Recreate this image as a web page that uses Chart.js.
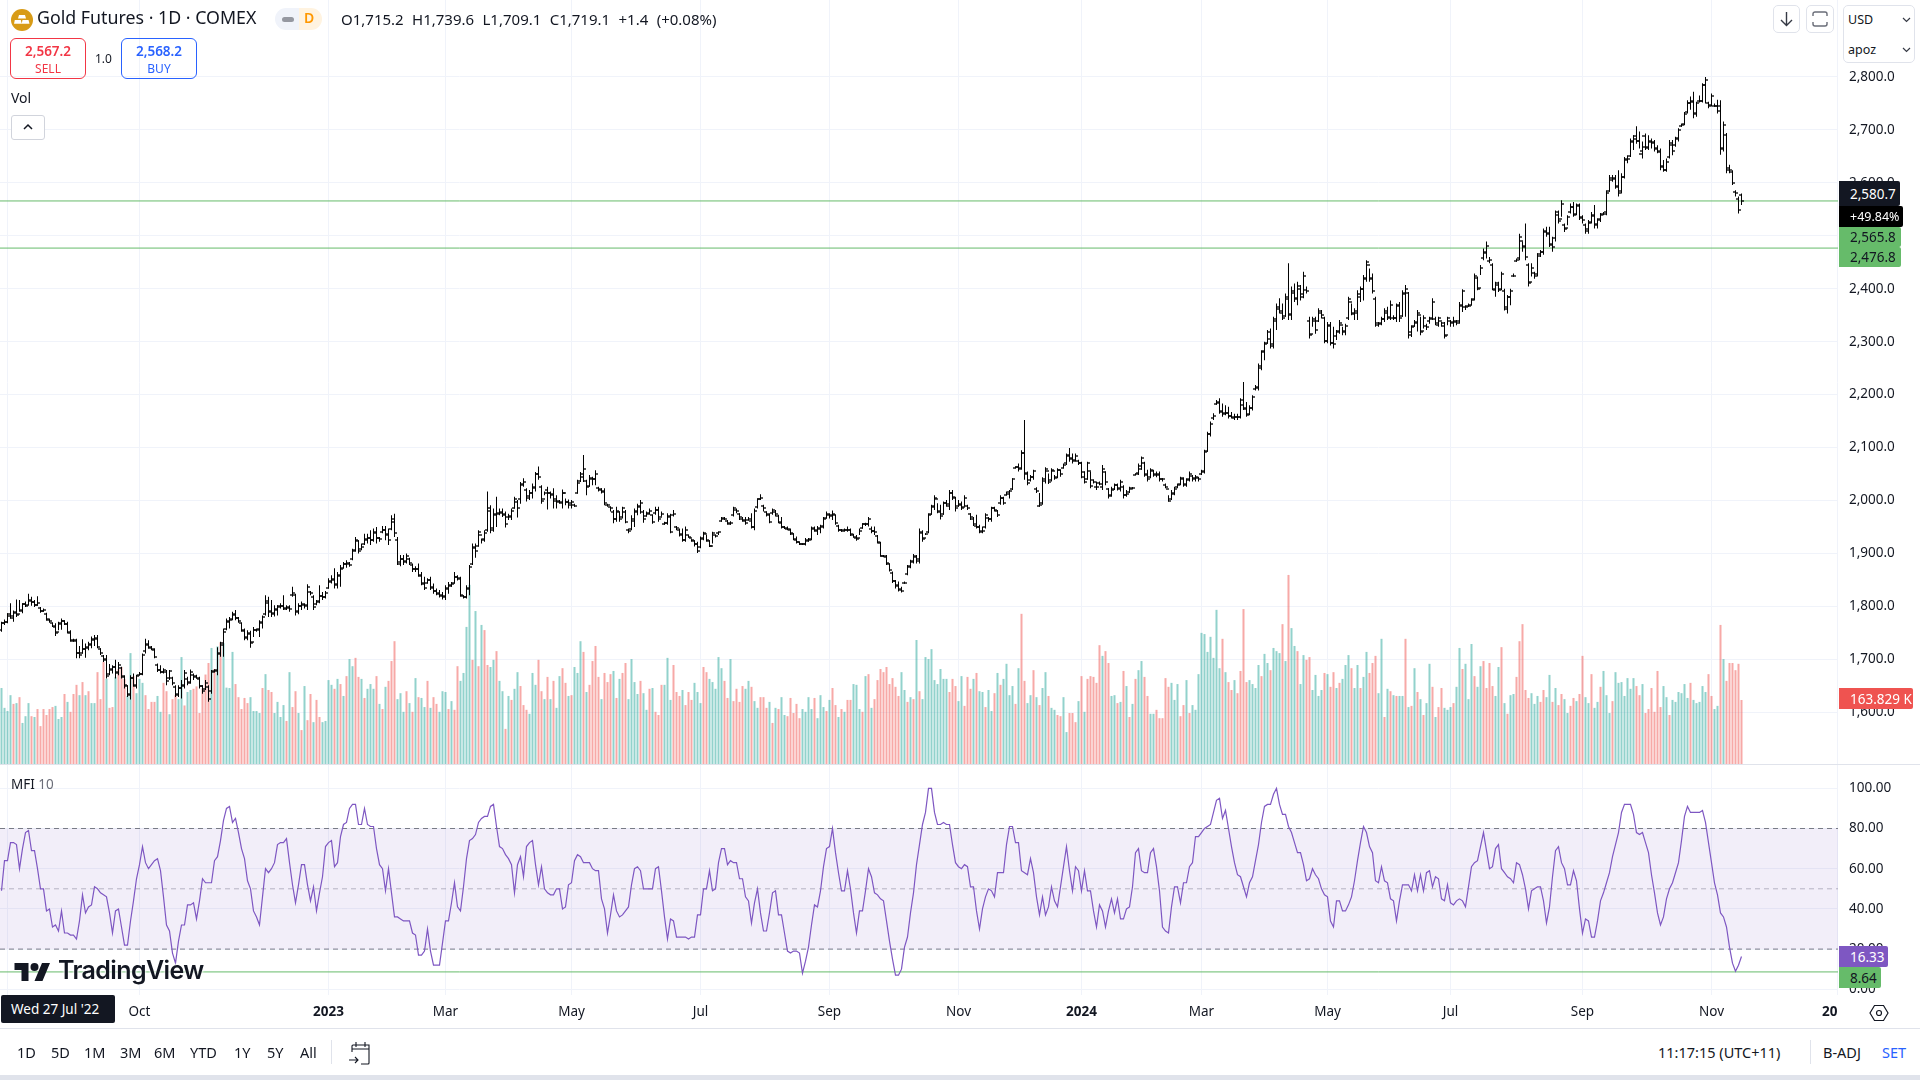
<!DOCTYPE html>
<html>
<head>
<meta charset="utf-8">
<title>Gold Futures</title>
<script src="https://cdn.jsdelivr.net/npm/chart.js@4"></script>
<style>
html,body{margin:0;padding:0;background:#fff;width:1920px;height:1080px;overflow:hidden;font-family:"Noto Sans",sans-serif;color:#131722}
canvas{position:absolute;left:0}
.t{position:absolute;white-space:nowrap;line-height:1}
.box{position:absolute;box-sizing:border-box}
.lab{position:absolute;left:1839px;box-sizing:border-box;font-size:13.5px;text-align:left;padding-left:11px;display:flex;align-items:center;border-radius:0 2px 2px 0}
</style>
</head>
<body>
<canvas id="mainChart" width="1920" height="765" style="top:0"></canvas>
<canvas id="mfiChart" width="1920" height="263" style="top:765px"></canvas>

<div class="box" style="left:0;top:764px;width:1920px;height:1px;background:#e0e3eb"></div>
<div class="box" style="left:0;top:1028px;width:1920px;height:1px;background:#e0e3eb"></div>
<div class="box" style="left:0;top:1075px;width:1920px;height:5px;background:#e0e3eb"></div>
<div class="box" style="left:1838px;top:995px;width:82px;height:33px;background:#fff"></div>

<svg class="box" style="left:11px;top:9px" width="22" height="22" viewBox="0 0 22 22"><circle cx="11" cy="11" r="11" fill="#d89b16"/><path d="M8 6h6l1 3.6H7zM3.8 11h6l1 3.8H3zM11.5 11h6l1 3.8h-7.8z" fill="#fff"/></svg>
<div class="t" style="left:37px;top:9px;font-size:17.8px">Gold Futures · 1D · COMEX</div>
<div class="box" style="left:275px;top:8px;width:24px;height:22px;background:#f0f3fa;border-radius:11px 0 0 11px"></div>
<div class="box" style="left:282px;top:17px;width:12px;height:5px;background:#9598a1;border-radius:3px"></div>
<div class="box" style="left:299px;top:8px;width:23px;height:22px;background:#fff3e0;border-radius:0 11px 11px 0"></div>
<div class="t" style="left:304px;top:11px;font-size:14px;color:#ff9800;font-weight:600">D</div>
<div class="t" id="ohlcText" style="left:341px;top:12px;font-size:15px;word-spacing:4.5px">O1,715.2 H1,739.6 L1,709.1 C1,719.1 +1.4 (+0.08%)</div>

<div class="box" style="left:10px;top:38px;width:76px;height:41px;border:1px solid #f23645;border-radius:6px"></div>
<div class="t" style="left:10px;width:76px;text-align:center;top:45px;font-size:13.5px;font-weight:600;color:#f23645">2,567.2</div>
<div class="t" style="left:10px;width:76px;text-align:center;top:63px;font-size:12px;color:#f23645">SELL</div>
<div class="t" style="left:95px;top:53px;font-size:12px">1.0</div>
<div class="box" style="left:121px;top:38px;width:76px;height:41px;border:1px solid #2962ff;border-radius:6px"></div>
<div class="t" style="left:121px;width:76px;text-align:center;top:45px;font-size:13.5px;font-weight:600;color:#2962ff">2,568.2</div>
<div class="t" style="left:121px;width:76px;text-align:center;top:63px;font-size:12px;color:#2962ff">BUY</div>
<div class="t" style="left:11px;top:91px;font-size:14px">Vol</div>
<div class="box" style="left:11px;top:115px;width:34px;height:25px;border:1px solid #d1d4dc;border-radius:3px;background:#fff"></div>
<svg class="box" style="left:22px;top:122px" width="12" height="10" viewBox="0 0 12 10"><path d="M2 7l4-4 4 4" fill="none" stroke="#131722" stroke-width="1.5"/></svg>

<div class="box" style="left:1773px;top:5px;width:27px;height:28px;border:1px solid #e0e3eb;border-radius:5px;background:#fff"></div>
<svg class="box" style="left:1779px;top:11px" width="15" height="16" viewBox="0 0 15 16"><path d="M7.5 1v13M2 9l5.5 5.5L13 9" fill="none" stroke="#363a45" stroke-width="1.4"/></svg>
<div class="box" style="left:1806px;top:5px;width:28px;height:28px;border:1px solid #e0e3eb;border-radius:5px;background:#fff"></div>
<svg class="box" style="left:1812px;top:11px" width="16" height="16" viewBox="0 0 16 16"><path d="M1 5V3a2 2 0 0 1 2-2h10a2 2 0 0 1 2 2v2M1 11v2a2 2 0 0 0 2 2h10a2 2 0 0 0 2-2v-2" fill="none" stroke="#6a6d78" stroke-width="1.4"/></svg>
<div class="box" style="left:1843px;top:5px;width:72px;height:58px;border:1px solid #e0e3eb;border-radius:5px;background:#fff"></div>
<div class="t" style="left:1848px;top:14px;font-size:12.5px">USD</div>
<div class="t" style="left:1848px;top:44px;font-size:12.5px">apoz</div>
<svg class="box" style="left:1902px;top:17px" width="9" height="6" viewBox="0 0 9 6"><path d="M1 1l3.5 3.5L8 1" fill="none" stroke="#363a45" stroke-width="1.2"/></svg>
<svg class="box" style="left:1902px;top:47px" width="9" height="6" viewBox="0 0 9 6"><path d="M1 1l3.5 3.5L8 1" fill="none" stroke="#363a45" stroke-width="1.2"/></svg>

<div class="lab" style="top:181px;height:25px;width:61px;background:#131722;color:#fff">2,580.7</div>
<div class="lab" style="top:206px;height:21px;width:64px;background:#000;color:#fff;padding-left:11px;font-size:12.5px">+49.84%</div>
<div class="lab" style="top:227px;height:20px;width:62px;background:#66bb6a;color:#131722">2,565.8</div>
<div class="lab" style="top:247px;height:20px;width:62px;background:#66bb6a;color:#131722">2,476.8</div>
<div class="lab" style="top:688px;height:21px;width:74px;background:#ef5350;color:#fff">163.829 K</div>
<div class="lab" style="top:946px;height:21px;width:49px;background:#7e57c2;color:#fff">16.33</div>
<div class="lab" style="top:967px;height:21px;width:42px;background:#66bb6a;color:#131722">8.64</div>

<div class="t" style="left:11px;top:778px;font-size:13.5px">MFI <span style="color:#6a6d78">10</span></div>
<svg class="box" style="left:14px;top:962px" width="37" height="22" viewBox="0 0 36 22"><path d="M14 19H7V8H0V1h14v18zM28 19h-8L27.5 1h8L28 19z" fill="#131722"/><circle cx="20" cy="5" r="4" fill="#131722"/></svg>
<div class="t" style="left:58px;top:958px;font-size:25px;font-weight:600;font-family:Inter,sans-serif;letter-spacing:-.6px;text-shadow:0 0 3px #fff,0 0 3px #fff">TradingView</div>

<div class="box" style="left:1px;top:995px;width:114px;height:28px;background:#131722;border-radius:2px"></div>
<div class="t" style="left:11px;top:1003px;font-size:13.5px;color:#fff">Wed 27 Jul '22</div>
<svg class="box" style="left:1869px;top:1003px" width="20" height="20" viewBox="0 0 20 20"><path d="M5.5 2.5h9L19 10l-4.500 7.500h-9L1 10z" fill="none" stroke="#131722" stroke-width="1.2"/><circle cx="10" cy="10" r="2.500" fill="none" stroke="#131722" stroke-width="1.2"/></svg>

<div class="t" style="left:17px;top:1045px;font-size:14.5px">1D</div>
<div class="t" style="left:51px;top:1045px;font-size:14.5px">5D</div>
<div class="t" style="left:84px;top:1045px;font-size:14.5px">1M</div>
<div class="t" style="left:120px;top:1045px;font-size:14.5px">3M</div>
<div class="t" style="left:154px;top:1045px;font-size:14.5px">6M</div>
<div class="t" style="left:190px;top:1045px;font-size:14.5px">YTD</div>
<div class="t" style="left:234px;top:1045px;font-size:14.5px">1Y</div>
<div class="t" style="left:267px;top:1045px;font-size:14.5px">5Y</div>
<div class="t" style="left:300px;top:1045px;font-size:14.5px">All</div>
<div class="box" style="left:331px;top:1040px;width:1px;height:24px;background:#e0e3eb"></div>
<svg class="box" style="left:347px;top:1041px" width="24" height="24" viewBox="0 0 24 24"><path d="M5 11V5a1 1 0 0 1 1-1h16v18a1 1 0 0 1-1 1h-7M5 8h17M9 1v5M18 1v5M2 19h9M8 16l3 3-3 3" fill="none" stroke="#131722" stroke-width="1.1"/></svg>
<div class="t" style="left:1658px;top:1045px;font-size:14.5px">11:17:15 (UTC+11)</div>
<div class="box" style="left:1810px;top:1040px;width:1px;height:24px;background:#e0e3eb"></div>
<div class="t" style="left:1823px;top:1045px;font-size:14.5px">B-ADJ</div>
<div class="t" style="left:1882px;top:1045px;font-size:14.5px;color:#2962ff">SET</div>

<script>
// daily bars
const highs = [
1771,1775,1787,1806,1792,1813,1812,1806,1809,1824,
1818,1812,1819,1799,1796,1788,1777,1769,1768,1771,
1777,1774,1771,1755,1739,1739,1725,1738,1730,1733,
1743,1746,1746,1721,1708,1708,1691,1689,1699,1695,
1686,1670,1651,1670,1673,1671,1676,1711,1739,1736,
1725,1721,1692,1689,1683,1680,1680,1667,1651,
1651,1661,1680,1667,1681,1673,1671,1667,1651,1661,
1651,1680,1681,1723,1733,1758,1777,1780,1790,1793,
1780,1769,1758,1755,1754,1761,1758,1774,1783,1821,
1818,1812,1802,1802,1806,1821,1802,1802,1837,1824,
1806,1809,1806,1842,1829,1821,1812,1840,1827,1829,
1853,1859,1872,1865,1878,1884,1887,1884,1909,1931,
1925,1919,1937,1937,1944,1947,1950,1931,1952,1952,
1947,1972,1975,1931,1897,1897,1900,1892,1881,1876,
1881,1865,1856,1853,1856,1843,1834,1831,1827,1840,
1846,1846,1865,1859,1856,1821,1840,1878,1919,1919,
1944,1928,1944,2017,1991,1985,2007,1985,1985,1979,
1975,1985,2007,2001,2035,2042,2023,2020,2032,
2054,2064,2029,2017,2026,2017,2023,2010,2001,2021,
2004,2002,2001,1994,2039,2054,2086,2039,2048,2045,
2057,2026,2023,2023,1994,1988,1982,1988,1979,1988,
1982,1947,1972,1985,1994,2001,1982,1979,1985,1973,
1988,1988,1979,1960,1976,1975,1982,1952,1947,1947,
1951,1935,1927,1925,1922,1932,1941,1935,1925,1941,
1935,1941,1969,1969,1963,1961,1988,1985,1976,1969,
1969,1969,1976,1985,2004,2012,1992,1979,1976,1985,
1982,1973,1969,1952,1951,1947,1938,1932,1922,1919,
1929,1929,1951,1951,1952,1954,1969,1979,1976,1981,
1973,1954,1946,1947,1951,1947,1937,1935,1947,1957,
1958,1969,1951,1951,1935,1922,1897,1897,1881,
1866,1850,1847,1837,1847,1878,1888,1899,1897,1947,
1944,1938,1976,1992,2010,1995,1992,1998,2001,2020,
2020,2007,2001,1998,2010,1992,1976,1969,1973,1954,
1951,1976,1969,1988,1988,1982,2010,2007,2017,2020,
2042,2064,2070,2095,2152,2055,2048,2058,2025,
2014,2044,2063,2051,2061,2048,2061,2058,2070,2089,
2099,2089,2089,2077,2073,2055,2073,2055,2039,2036,
2036,2067,2055,2023,2026,2032,2032,2039,2029,2020,
2026,2025,2051,2070,2083,2073,2058,2061,2058,2055,
2055,2042,2032,2010,2020,2026,2032,2045,2044,2042,
2055,2048,2048,2045,2058,2096,2130,2149,2165,
2190,2193,2183,2180,2177,2167,2164,2164,2193,2224,
2186,2180,2199,2218,2259,2284,2300,2322,2325,2347,
2372,2382,2372,2391,2448,2404,2410,2413,2407,2432,
2404,2347,2347,2347,2363,2360,2347,2337,2337,2328,
2322,2341,2328,2334,2385,2372,2363,2397,2404,2426,
2454,2438,2429,2385,2337,2347,2363,2366,2378,2350,
2372,2375,2397,2407,2394,2331,2341,2360,2347,2350,
2334,2347,2382,2347,2347,2337,2337,2347,2341,2347,
2341,2375,2399,2369,2372,2382,2429,2423,2445,2476,
2489,2460,2448,2413,2413,2432,2400,2388,2400,2429,
2457,2504,2489,2523,2448,2448,2432,2467,2473,2514,
2517,2517,2498,2548,2548,2567,2523,2539,2561,
2564,2561,2561,2539,2523,2530,2545,2558,2533,2543,
2545,2586,2615,2615,2615,2624,2618,2649,2652,2684,
2690,2707,2697,2678,2693,2690,2684,2681,2671,2665,
2643,2646,2681,2681,2687,2703,2712,2734,2756,2763,
2772,2753,2765,2788,2800,2753,2769,2750,2757,2756,
2716,2694,2634,2624,2586,2574,2580];
const lows = [
1752,1765,1768,1777,1771,1780,1790,1787,1799,1802,
1801,1799,1801,1788,1790,1773,1769,1761,1744,1755,
1756,1765,1749,1733,1733,1702,1702,1711,1703,1717,
1721,1725,1721,1708,1695,1664,1670,1673,1664,1670,
1664,1645,1629,1624,1648,1645,1670,1670,1711,1720,
1717,1702,1676,1673,1673,1651,1661,1651,1629,
1629,1626,1645,1651,1654,1661,1664,1645,1635,1642,
1620,1635,1676,1670,1705,1705,1755,1758,1774,1774,
1769,1752,1736,1736,1722,1742,1752,1742,1758,1783,
1780,1780,1781,1783,1796,1793,1793,1790,1818,1783,
1785,1793,1796,1793,1821,1793,1802,1806,1812,1815,
1834,1843,1834,1834,1837,1872,1873,1875,1887,1903,
1900,1906,1916,1919,1916,1922,1919,1922,1938,1925,
1916,1944,1931,1878,1876,1878,1881,1878,1865,1865,
1856,1840,1831,1843,1831,1824,1821,1817,1813,1812,
1824,1837,1843,1849,1818,1815,1815,1821,1878,1892,
1913,1919,1922,1941,1938,1941,1950,1972,1969,1949,
1963,1963,1985,1968,1994,2026,1998,2001,2004,
2017,2039,1994,2010,1983,2004,1985,1985,1994,1985,
1991,1985,1985,1988,2013,2035,2035,2010,2026,2029,
2029,2017,2013,1991,1988,1979,1957,1960,1960,1966,
1957,1938,1944,1950,1972,1975,1958,1970,1973,1956,
1973,1960,1970,1954,1954,1938,1970,1944,1932,1922,
1922,1930,1922,1913,1901,1910,1925,1922,1912,1919,
1930,1935,1960,1963,1954,1954,1970,1976,1963,1960,
1954,1962,1947,1944,1985,2001,1979,1970,1957,1973,
1970,1957,1947,1946,1944,1935,1925,1919,1916,1916,
1915,1922,1925,1941,1935,1938,1947,1966,1966,1963,
1954,1941,1941,1941,1941,1933,1930,1924,1935,1947,
1952,1951,1938,1935,1919,1894,1893,1878,1866,
1844,1834,1828,1826,1843,1859,1872,1881,1881,1881,
1922,1935,1938,1973,1982,1976,1964,1973,1988,1982,
2001,1979,1988,1982,1988,1982,1963,1952,1947,1938,
1938,1947,1960,1960,1979,1969,1992,1992,2010,2004,
2020,2061,2055,2058,2039,2029,2036,2039,2014,
1988,1992,2032,2031,2036,2039,2042,2045,2061,2067,
2073,2070,2073,2067,2042,2032,2039,2023,2032,2020,
2029,2020,2029,2004,2007,2020,2019,2017,2004,2007,
2014,2021,2048,2048,2058,2045,2036,2042,2045,2044,
2036,2036,2023,1998,2001,2010,2023,2029,2026,2026,
2036,2036,2036,2036,2048,2051,2092,2121,2152,
2181,2164,2158,2161,2155,2155,2152,2152,2155,2171,
2158,2161,2170,2208,2208,2246,2265,2296,2287,2287,
2322,2353,2341,2347,2341,2341,2375,2369,2378,2382,
2391,2306,2328,2315,2337,2344,2297,2297,2293,2287,
2303,2315,2312,2312,2341,2350,2341,2341,2375,2378,
2413,2413,2391,2328,2328,2331,2337,2341,2341,2341,
2337,2337,2347,2347,2306,2309,2328,2319,2312,2325,
2322,2334,2341,2331,2328,2328,2306,2331,2328,2328,
2331,2334,2356,2360,2366,2369,2378,2397,2426,2454,
2457,2448,2397,2385,2394,2397,2359,2353,2369,2423,
2451,2454,2470,2454,2404,2423,2419,2423,2460,2464,
2498,2479,2470,2489,2523,2536,2507,2520,2542,
2536,2539,2530,2523,2504,2504,2523,2514,2514,2526,
2539,2539,2583,2602,2589,2574,2580,2608,2637,2649,
2662,2674,2665,2646,2662,2662,2665,2659,2656,2624,
2621,2621,2646,2652,2668,2678,2706,2709,2731,2738,
2722,2725,2752,2752,2750,2741,2744,2744,2731,2653,
2659,2618,2618,2596,2574,2542,2558];
const opens = [
1755,1769,1771,1782,1781,1788,1785,1791,1804,1803,
1811,1809,1803,1797,1792,1786,1775,1769,1762,1752,
1766,1772,1767,1750,1735,1735,1712,1712,1720,1723,
1729,1737,1739,1720,1706,1698,1672,1681,1685,1677,
1683,1667,1650,1632,1664,1650,1671,1672,1716,1729,
1722,1718,1689,1680,1677,1676,1664,1664,1647,
1634,1646,1651,1663,1657,1670,1667,1663,1649,1644,
1648,1640,1677,1678,1712,1728,1757,1770,1776,1784,
1778,1768,1753,1742,1748,1733,1755,1757,1768,1785,
1806,1792,1787,1794,1799,1801,1796,1797,1822,1822,
1792,1801,1803,1802,1828,1818,1805,1810,1820,1818,
1835,1846,1850,1842,1858,1873,1880,1881,1890,1906,
1923,1908,1918,1927,1930,1926,1938,1930,1940,1944,
1936,1946,1960,1925,1883,1890,1886,1889,1878,1871,
1871,1858,1843,1845,1850,1834,1829,1824,1820,1820,
1833,1839,1845,1855,1852,1820,1818,1832,1880,1910,
1915,1935,1927,1945,1980,1948,1972,1976,1977,1972,
1968,1968,1986,1998,2002,2032,2020,2008,2014,
2024,2050,2025,2003,2020,2015,2012,2003,1997,1996,
2014,1998,1992,1992,2015,2036,2050,2036,2028,2042,
2040,2024,2021,2017,1992,1988,1978,1965,1979,1968,
1978,1945,1946,1962,1978,1988,1978,1970,1976,1972,
1976,1982,1968,1956,1958,1968,1972,1950,1945,1936,
1925,1934,1930,1924,1918,1912,1930,1936,1924,1915,
1934,1938,1962,1967,1962,1956,1972,1983,1975,1966,
1961,1963,1962,1950,1988,2003,1990,1978,1972,1976,
1978,1971,1958,1950,1947,1945,1936,1926,1921,1917,
1917,1924,1927,1947,1943,1946,1951,1967,1972,1972,
1972,1952,1944,1944,1944,1944,1935,1930,1930,1948,
1956,1956,1947,1942,1933,1920,1895,1894,1880,
1864,1848,1840,1831,1844,1862,1876,1884,1894,1890,
1938,1929,1940,1975,1988,2002,1978,1975,1996,1990,
2014,2005,1990,1992,1988,1990,1975,1966,1952,1950,
1940,1950,1967,1965,1986,1980,1995,2005,2011,2017,
2022,2062,2064,2062,2090,2052,2038,2045,2022,
1990,1995,2036,2056,2039,2056,2044,2058,2062,2070,
2086,2080,2076,2075,2071,2053,2041,2055,2038,2025,
2033,2025,2053,2022,2010,2022,2030,2024,2025,2011,
2016,2024,2049,2052,2060,2070,2048,2044,2056,2048,
2048,2040,2030,2021,2003,2012,2025,2031,2040,2032,
2040,2046,2042,2042,2050,2054,2094,2125,2155,
2183,2186,2168,2164,2165,2160,2156,2158,2158,2180,
2172,2164,2174,2210,2214,2250,2282,2298,2305,2295,
2342,2362,2355,2349,2380,2352,2392,2382,2400,2390,
2398,2340,2315,2340,2340,2355,2345,2302,2330,2298,
2310,2320,2332,2320,2345,2375,2355,2355,2385,2400,
2418,2445,2420,2380,2332,2335,2342,2355,2346,2345,
2345,2370,2348,2390,2392,2318,2330,2338,2350,2320,
2330,2340,2345,2342,2332,2340,2330,2312,2340,2338,
2338,2340,2368,2366,2368,2370,2380,2420,2402,2458,
2468,2452,2445,2398,2408,2400,2395,2362,2385,2424,
2453,2458,2490,2478,2445,2412,2430,2428,2462,2470,
2508,2503,2482,2495,2540,2532,2520,2515,2545,
2554,2542,2556,2534,2520,2512,2527,2538,2522,2532,
2541,2545,2585,2606,2608,2592,2585,2612,2643,2650,
2678,2683,2680,2660,2668,2668,2678,2677,2664,2658,
2632,2625,2648,2672,2672,2682,2708,2712,2733,2750,
2752,2732,2755,2755,2785,2750,2748,2746,2745,2745,
2664,2690,2628,2620,2582,2570,2577];
const closes = [
1769,1771,1785,1779,1790,1783,1793,1804,1801,1812,
1808,1802,1806,1792,1793,1776,1772,1763,1750,1768,
1773,1767,1752,1736,1736,1712,1708,1719,1722,1728,
1738,1740,1724,1712,1700,1668,1680,1686,1675,1690,
1668,1652,1634,1665,1652,1668,1672,1708,1728,1723,
1720,1705,1680,1676,1679,1660,1678,1655,1633,
1645,1650,1675,1656,1676,1668,1665,1650,1640,1655,
1625,1678,1679,1710,1730,1752,1772,1775,1785,1778,
1772,1755,1740,1750,1730,1756,1755,1770,1780,1810,
1790,1785,1795,1800,1800,1797,1798,1795,1825,1790,
1800,1805,1800,1836,1825,1798,1808,1820,1818,1825,
1848,1852,1840,1860,1870,1880,1882,1878,1905,1925,
1905,1912,1925,1930,1925,1940,1930,1928,1945,1935,
1925,1965,1938,1880,1890,1884,1896,1882,1870,1870,
1860,1845,1835,1850,1836,1830,1825,1822,1818,1835,
1840,1842,1855,1853,1822,1818,1835,1875,1912,1905,
1940,1925,1938,1985,1945,1975,1975,1978,1975,1955,
1970,1980,2003,1985,2030,2035,2005,2015,2025,
2050,2045,2000,2014,2015,2010,2000,2000,1998,2015,
1998,1995,1998,1990,2033,2045,2060,2025,2040,2040,
2050,2020,2018,1995,1991,1985,1965,1980,1965,1985,
1960,1942,1965,1980,1990,1995,1965,1975,1980,1960,
1983,1965,1975,1957,1970,1940,1975,1948,1935,1925,
1945,1932,1925,1917,1905,1928,1938,1925,1915,1938,
1933,1940,1965,1965,1958,1958,1985,1980,1968,1963,
1958,1966,1950,1980,2002,2005,1985,1975,1960,1982,
1975,1960,1950,1948,1946,1938,1928,1922,1918,1918,
1925,1925,1948,1945,1948,1950,1965,1975,1970,1975,
1958,1945,1943,1945,1945,1936,1932,1927,1943,1955,
1955,1965,1943,1940,1922,1896,1895,1882,1868,
1848,1838,1832,1830,1845,1875,1885,1895,1885,1940,
1928,1937,1972,1990,2005,1980,1970,1995,1993,2015,
2006,1985,1993,1985,2005,1985,1968,1955,1950,1942,
1942,1972,1965,1985,1983,1972,2005,1995,2013,2018,
2040,2063,2060,2090,2050,2033,2045,2055,2018,
1992,2040,2060,2035,2058,2042,2058,2050,2068,2085,
2078,2075,2085,2070,2045,2035,2070,2028,2035,2025,
2032,2060,2035,2008,2020,2030,2022,2035,2010,2012,
2022,2023,2050,2065,2080,2050,2040,2058,2050,2050,
2040,2040,2026,2000,2015,2022,2030,2042,2030,2038,
2050,2040,2045,2040,2055,2092,2125,2145,2160,
2185,2170,2165,2165,2160,2158,2158,2157,2190,2175,
2162,2175,2195,2212,2255,2280,2295,2318,2292,2340,
2365,2358,2345,2385,2350,2395,2380,2405,2385,2425,
2395,2312,2342,2322,2358,2350,2302,2332,2297,2295,
2318,2335,2318,2330,2380,2352,2358,2390,2400,2420,
2450,2418,2395,2335,2333,2342,2358,2345,2370,2345,
2368,2345,2392,2400,2312,2328,2335,2355,2318,2345,
2327,2342,2375,2335,2345,2335,2310,2345,2335,2340,
2335,2370,2395,2365,2368,2378,2425,2400,2440,2470,
2480,2455,2400,2410,2398,2428,2365,2385,2395,2425,
2455,2498,2480,2460,2410,2440,2425,2465,2470,2510,
2505,2485,2478,2545,2528,2560,2512,2535,2555,
2540,2558,2535,2530,2510,2525,2540,2520,2530,2540,
2542,2580,2610,2610,2595,2580,2612,2645,2645,2680,
2688,2680,2655,2688,2665,2680,2675,2665,2660,2630,
2625,2640,2675,2660,2685,2700,2710,2730,2750,2755,
2730,2750,2755,2785,2795,2745,2765,2746,2735,2665,
2710,2625,2625,2600,2580,2548,2566];
// volume in thousands
const volumes = [
194,144,136,176,154,156,171,106,123,156,123,121,141,98,141,126,141,146,149,116,
121,179,159,134,179,202,176,209,176,186,156,156,234,166,260,217,144,146,222,242,
247,217,174,282,224,181,217,207,176,141,159,159,174,134,207,186,128,166,176,166,
272,150,184,189,192,198,131,193,228,257,295,242,299,309,307,195,194,285,204,171,
141,169,156,171,136,136,131,194,229,189,184,131,159,121,151,111,234,146,186,131,
88,199,113,179,108,164,121,108,111,214,202,192,217,204,174,224,267,249,270,222,
217,169,192,204,192,224,154,141,197,212,262,312,166,181,134,186,156,134,219,171,
169,146,212,144,171,154,134,186,184,141,161,139,249,212,232,348,454,265,388,249,
353,340,252,247,265,287,212,186,91,174,164,192,234,199,151,139,129,232,202,265,
186,166,222,166,212,144,224,244,207,174,176,247,232,312,285,184,202,262,300,222,
166,232,209,229,237,169,217,232,257,166,267,209,179,
212,181,139,192,194,134,126,202,202,270,
164,252,184,174,189,151,184,164,207,184,
156,247,234,217,209,192,272,244,212,169,
267,161,192,159,199,192,212,197,161,144,
171,171,144,159,106,144,141,171,126,123,
169,131,154,118,141,134,171,141,169,118,
176,146,136,164,194,151,121,141,134,164,
164,204,202,141,134,224,229,144,166,214,
242,234,247,204,219,197,174,234,189,159,
171,166,315,186,166,272,267,292,214,204,
242,217,217,184,217,199,161,224,149,222,
192,217,232,186,184,146,189,136,181,232,
202,217,255,176,199,154,244,381,212,156,
176,239,171,151,194,234,174,144,139,126,
123,171,83,131,131,108,161,224,134,217,
224,222,207,302,275,287,257,174,176,156,
159,237,199,121,154,217,239,262,222,174,
129,129,139,118,118,219,197,207,164,204,
123,151,214,131,151,139,229,333,330,285,
323,270,391,244,318,234,209,189,214,181,
237,393,
209,214,204,194,252,224,280,257,239,295,
287,282,355,262,479,345,300,287,204,277,
265,272,189,227,174,189,232,229,197,234,
194,207,217,252,277,244,194,252,194,222,
285,232,257,275,181,318,121,192,186,176,
174,174,174,318,146,149,244,184,166,126,
156,255,197,121,146,194,144,139,146,156,
197,295,242,255,166,305,224,197,249,262,
194,257,199,174,247,297,156,129,176,179,
222,312,355,189,169,181,154,174,159,189,
171,227,159,194,151,179,166,131,149,169,
161,179,275,171,156,229,144,159,197,237,
176,131,161,234,207,209,174,219,192,219,
199,176,204,131,141,194,134,237,146,199,
171,126,164,159,184,181,204,169,207,164,
156,159,199,184,229,174,141,149,353,267,
212,257,257,239,255,163.829];
// U = teal volume bar, D = red volume bar
const volumeDirs = (
"UUUUDUDUUU"+"DUDDDDDDUU"+"UDUDDDUDUD"+"UUDDDUDDUD"+"DDUUDUUUDD"+"DDUUDDUDDU"+"UDUUDDDDDD"+"UDUDUUUUDD"+"DDDUUUUDUD"+"DUUUUDUDDU"+
"DUDDUDDUUU"+"UDUDUDUUDD"+"UDUUUDUDUD"+"DDUUUDUDUD"+"UUDUDDUUUD"+"UDDUUUUDUD"+"UDDUUDUUDU"+"DUUDDDUUUD"+"DUDUDUUDDU"+"DUUUDUDDDD"+"UDDDUDUDDU"+"UUU"+
"DUUDUDDDUU"+"UDDDUDDDUU"+"UDDUUUUUDD"+"UDDDDUUDUU"+"DDDUDUDUUD"+"DDDDUUUUDU"+"UUDUDDUDUD"+"DUUUDUDUDD"+"DDDDDDDUUD"+"UDUDUUUUUU"+"UUUDDDUUDD"+"DUDUUDUUDU"+
"DUUUUDUDDU"+"UDUDUUDUUD"+"DUUDDDUDUD"+"DDDDUDDUUD"+"UDUDUDUUDD"+"UUDDDDDUUU"+"DDUDUUUUUU"+"UUUUDUDDUD"+"DD"+
"DUUUUDUUDU"+"UUDUDUUDUU"+"DDUUUUDUDD"+"UDUUUDUUDU"+"UDDDUUDUDU"+"DUUDUDUDUD"+"UUDUDDUUUD"+"UUDUUUDUUD"+"DDDUUDUDUU"+"DDDDDUUUDD"+"UUDUDDUUDD"+"UDDUUDUUDU"+"UUDUUUUUUU"+"DDUDDDDDDU"+"UDUUUUUUDU"+"UUUUDDUUDU"+"DDDDDD"
).split("");
// money flow index, period 10
const mfiValues = [
49,64,64,73,73,72,60,70,78,79,
69,69,60,50,50,39,40,31,32,29,
39,28,28,27,27,25,34,47,38,41,
42,51,50,48,47,46,38,28,39,40,
31,22,22,34,44,55,62,71,63,60,
62,64,65,59,46,32,29,18,13,
24,32,32,42,42,43,35,44,55,53,
53,53,64,66,74,84,90,91,83,85,
78,70,65,54,50,39,36,32,46,60,
58,60,63,72,73,73,75,63,52,43,
52,62,62,52,44,51,39,48,56,71,
73,74,61,63,76,82,83,90,92,92,
82,82,90,82,81,81,70,62,60,49,
60,48,36,36,35,34,34,34,28,27,
17,17,19,30,19,12,12,12,23,34,
34,43,53,41,39,51,65,74,75,77,
83,85,86,86,91,92,81,71,70,67,
65,62,48,62,66,56,71,73,74,
62,52,61,50,48,47,47,50,50,40,
41,52,53,64,67,66,63,63,63,60,
59,59,45,40,28,37,47,39,36,37,
39,41,52,60,61,59,50,50,50,50,
60,61,49,36,25,35,34,26,26,26,
26,25,26,26,37,37,50,50,59,49,
50,63,70,70,62,64,63,63,55,55,
46,44,33,43,50,38,29,29,38,48,
49,37,37,28,19,18,19,19,18,8,
14,21,32,42,41,49,61,70,71,80,
68,58,49,49,59,50,38,28,39,39,
49,60,56,48,47,45,44,34,24,
15,7,7,10,21,26,38,48,62,72,
82,88,100,100,88,82,82,83,82,82,
72,63,61,60,62,61,51,51,39,30,
40,46,50,49,46,58,58,58,72,81,
81,73,73,59,58,57,65,58,46,
37,46,37,41,51,44,41,51,61,71,
59,49,61,59,49,59,49,49,39,31,
42,39,31,39,45,38,45,35,35,40,
41,51,68,70,59,58,58,68,70,61,
49,31,29,28,41,51,51,43,53,53,
61,63,76,76,78,80,81,82,88,
94,95,85,89,80,71,63,57,56,51,
46,53,56,64,72,83,91,92,92,97,
100,92,87,87,81,78,73,68,68,62,
54,55,60,57,55,50,47,46,34,31,
44,44,39,39,42,46,54,64,73,81,
78,71,68,54,53,61,54,53,45,44,
34,44,52,52,52,49,57,49,57,49,
58,59,51,56,55,45,44,52,43,42,
44,45,44,41,51,61,63,64,71,78,
69,60,61,70,72,60,58,56,55,53,
63,62,57,50,40,49,50,51,51,44,
33,41,56,69,71,63,60,52,52,
59,54,40,28,35,34,26,26,34,44,
48,53,58,66,72,78,88,92,92,92,
87,78,77,78,73,68,57,48,38,32,
36,45,50,53,58,63,74,86,91,88,
88,88,88,89,83,73,63,53,47,38,
36,31,21,13,9,12,16.33];

const priceTicks = [1600,1700,1800,1900,2000,2100,2200,2300,2400,2500,2600,2700,2800];
const mfiTicks = [0,20,40,60,80,100];
const priceLevels = [2565.8,2476.8];
const mfiLevel = 8.64;
// bar number of each month line on the time axis
const monthBars = [2,46,109,148,190,233,276,319,360,400,442,483,527,570,612];
const monthLabels = ["","Oct","2023","Mar","May","Jul","Sep","Nov","2024","Mar","May","Jul","Sep","Nov","2025"];

const gridColor = "#f0f3fa";
const xMin = -0.5, xMax = 612.17;
const fontName = '"Noto Sans",sans-serif';

function toPoints(arr){ return arr.map((v,i)=>({x:i,y:v})); }

// little images for the open (left) and close (right) ticks
function tickImage(left){
    var c = document.createElement("canvas");
    c.width = 5; c.height = 2;
    var g = c.getContext("2d");
    g.fillStyle = "rgba(0,0,0,0.65)";
    if(left){ g.fillRect(0,0,3,2); } else { g.fillRect(2,0,3,2); }
    return c;
}

function timeAxis(showLabels){
    return {
        type:"linear", min:xMin, max:xMax, offset:false, bounds:"data",
        grid:{color:gridColor, drawTicks:false, offset:false},
        border:{display:false},
        ticks:{
            display:showLabels, autoSkip:false, maxRotation:0, minRotation:0, padding:9,
            color:"#131722",
            font:function(ctx){
                var lab = monthLabels[ctx.index];
                return {family:fontName, size:13.5, weight:(lab=="2023"||lab=="2024"||lab=="2025")?"700":"400"};
            },
            callback:function(v,i){ return monthLabels[i]; }
        },
        afterBuildTicks:function(s){ s.ticks = monthBars.map(function(b){ return {value:b}; }); },
        afterFit:function(s){
            s.height = showLabels ? 33 : 0;
            s.paddingLeft = 0; s.paddingRight = 0;
        }
    };
}

function sideAxis(min,max,tickValues,digits){
    return {
        position:"right", min:min, max:max, bounds:"data",
        grid:{color:gridColor, drawTicks:false},
        border:{display:false},
        ticks:{
            color:"#131722", padding:11, autoSkip:false, font:{family:fontName,size:13.5},
            callback:function(v){ return v.toLocaleString("en-US",{minimumFractionDigits:digits,maximumFractionDigits:digits}); }
        },
        afterBuildTicks:function(s){ s.ticks = tickValues.map(function(v){ return {value:v}; }); },
        afterFit:function(s){
            s.width = 82;
            s.paddingTop = 0; s.paddingBottom = 0;
        }
    };
}

var baseOptions = {
    responsive:false, animation:false, devicePixelRatio:1, events:[],
    layout:{padding:0, autoPadding:false},
    plugins:{legend:{display:false},tooltip:{enabled:false}}
};

var mainDatasets = [
    {type:"bar", label:"Vol", yAxisID:"yVol", order:5, grouped:false, barThickness:2, inflateAmount:0,
     data:toPoints(volumes),
     backgroundColor:volumeDirs.map(function(d){ return d=="U" ? "rgba(38,166,154,0.5)" : "rgba(239,83,80,0.5)"; })},
    {type:"bar", label:"Range", yAxisID:"y", order:2, grouped:false, barThickness:1, inflateAmount:0,
     data:highs.map(function(h,i){ return {x:i,y:[lows[i],h]}; }), backgroundColor:"#000"},
    {type:"line", label:"Open", yAxisID:"y", order:1, showLine:false, pointStyle:tickImage(true), pointRadius:1,
     data:toPoints(opens)},
    {type:"line", label:"Close", yAxisID:"y", order:1, showLine:false, pointStyle:tickImage(false), pointRadius:1,
     data:toPoints(closes)}
];
priceLevels.forEach(function(p){
    mainDatasets.push({type:"line", yAxisID:"y", order:3, borderColor:"#66bb6a", borderWidth:1, pointRadius:0,
        data:[{x:xMin,y:p},{x:xMax,y:p}]});
});

new Chart(document.getElementById("mainChart"),{
    data:{datasets:mainDatasets},
    options:Object.assign({},baseOptions,{
        scales:{
            x:timeAxis(false),
            y:sideAxis(1500.4,2945.4,priceTicks,1),
            yVol:{display:false,min:0,max:1928}
        }
    })
});

new Chart(document.getElementById("mfiChart"),{
    type:"line",
    data:{datasets:[
        {data:toPoints(mfiValues), borderColor:"#7e57c2", borderWidth:1.2, pointRadius:0, order:1},
        {data:[{x:xMin,y:mfiLevel},{x:xMax,y:mfiLevel}], borderColor:"#66bb6a", borderWidth:1, pointRadius:0, order:2},
        {data:[{x:xMin,y:80},{x:xMax,y:80}], borderColor:"#787b86", borderDash:[5,4], borderWidth:1, pointRadius:0, order:3, fill:"+2", backgroundColor:"rgba(126,87,194,0.1)"},
        {data:[{x:xMin,y:50},{x:xMax,y:50}], borderColor:"rgba(120,123,134,0.5)", borderDash:[5,4], borderWidth:1, pointRadius:0, order:3},
        {data:[{x:xMin,y:20},{x:xMax,y:20}], borderColor:"#787b86", borderDash:[5,4], borderWidth:1, pointRadius:0, order:3}
    ]},
    options:Object.assign({},baseOptions,{
        scales:{
            x:timeAxis(true),
            y:sideAxis(-2.84,111.6,mfiTicks,2)
        }
    })
});
</script>
</body>
</html>
